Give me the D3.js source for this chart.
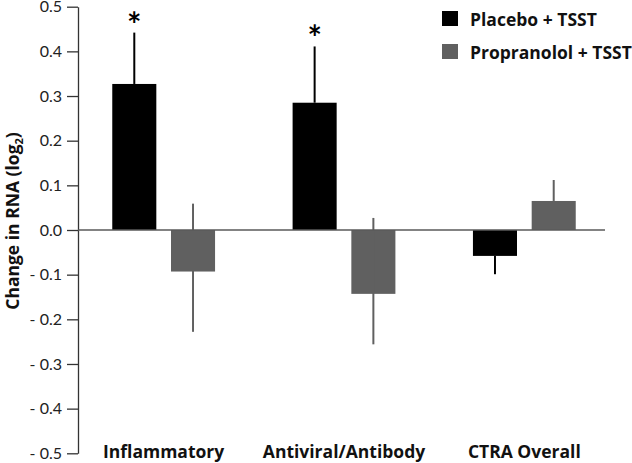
<!DOCTYPE html>
<html><head><meta charset="utf-8">
<script src="https://cdn.jsdelivr.net/npm/d3@7/dist/d3.min.js"></script>
<style>
html,body{margin:0;padding:0;background:#fff;}
svg{display:block;}
</style></head>
<body>
<svg id="chart" width="632" height="463"></svg>
<script>
// ---- data ----
const categories = ["Inflammatory", "Antiviral/Antibody", "CTRA Overall"];
const seriesNames = ["Placebo + TSST", "Propranolol + TSST"];
const placeboValues = [0.327, 0.285, -0.058];
const propranololValues = [-0.093, -0.143, 0.065];
const placeboErrHigh = [0.442, 0.411, -0.058];
const placeboErrLow = [0.327, 0.285, -0.099];
const propranololErrHigh = [0.059, 0.027, 0.112];
const propranololErrLow = [-0.228, -0.256, 0.065];
const placeboSignificance = ["*", "*", ""];
const yTickValues = [0.5, 0.4, 0.3, 0.2, 0.1, 0.0, -0.1, -0.2, -0.3, -0.4, -0.5];
const yTickLabels = ["0.5", "0.4", "0.3", "0.2", "0.1", "0.0", "- 0.1", "- 0.2", "- 0.3", "- 0.4", "- 0.5"];
const seriesColors = ["#000000", "#606060"];

const series = [
  {name: seriesNames[0], values: placeboValues, hi: placeboErrHigh, lo: placeboErrLow, sig: placeboSignificance},
  {name: seriesNames[1], values: propranololValues, hi: propranololErrHigh, lo: propranololErrLow, sig: ["", "", ""]}
];

const svg = d3.select("#chart");
const FONT = "Lato, 'Open Sans', sans-serif";
const BOLD = "'Open Sans', Lato, sans-serif";

const y = d3.scaleLinear().domain([-0.5, 0.5]).range([453.3, 6.7]);
const x = d3.scaleBand().domain(categories).range([78, 610]).paddingInner(0.43).paddingOuter(0.19);
const xs = d3.scaleBand().domain(seriesNames).range([0, x.bandwidth()]).paddingInner(0.25);
const color = d3.scaleOrdinal().domain(seriesNames).range(seriesColors);

// y axis
const yAxis = d3.axisLeft(y)
  .tickValues(yTickValues)
  .tickFormat((d, i) => yTickLabels[i])
  .tickSize(11).tickPadding(5).tickSizeOuter(0);
const gy = svg.append("g").attr("transform", "translate(78,0)").call(yAxis);
gy.select(".domain").attr("stroke", "#333").attr("stroke-width", 1.3);
gy.selectAll(".tick line").attr("stroke", "#333").attr("stroke-width", 1.3);
gy.selectAll(".tick text").attr("fill", "#222").style("font-family", FONT).style("font-size", "16px");

// bars
const groups = svg.append("g").selectAll("g").data(series).join("g");
groups.each(function(s) {
  const g = d3.select(this);
  const rows = categories.map((c, i) => ({c, v: s.values[i], hi: s.hi[i], lo: s.lo[i], sig: s.sig[i]}));
  g.selectAll("rect").data(rows).join("rect")
    .attr("x", d => x(d.c) + xs(s.name))
    .attr("width", xs.bandwidth())
    .attr("y", d => y(Math.max(0, d.v)))
    .attr("height", d => Math.abs(y(d.v) - y(0)))
    .attr("fill", color(s.name));
  g.selectAll("line.err").data(rows).join("line").attr("class", "err")
    .attr("x1", d => x(d.c) + xs(s.name) + xs.bandwidth() / 2)
    .attr("x2", d => x(d.c) + xs(s.name) + xs.bandwidth() / 2)
    .attr("y1", d => y(d.hi))
    .attr("y2", d => y(d.lo))
    .attr("stroke", color(s.name)).attr("stroke-width", 2);
  g.selectAll("text.sig").data(rows.filter(d => d.sig)).join("text").attr("class", "sig")
    .attr("x", d => x(d.c) + xs(s.name) + xs.bandwidth() / 2)
    .attr("y", d => y(d.hi) + 4)
    .attr("text-anchor", "middle")
    .style("font-family", FONT).style("font-weight", "bold").style("font-size", "34px")
    .attr("fill", "#000")
    .text(d => d.sig);
});

// zero line
svg.append("line")
  .attr("x1", 78).attr("x2", 605)
  .attr("y1", y(0)).attr("y2", y(0))
  .attr("stroke", "#5a5a5a").attr("stroke-width", 1.5);

// category labels
svg.append("g").selectAll("text").data(categories).join("text")
  .attr("x", d => x(d) + x.bandwidth() / 2)
  .attr("y", 458)
  .attr("text-anchor", "middle")
  .style("font-family", BOLD).style("font-weight", "bold").style("font-size", "17.5px")
  .attr("fill", "#111")
  .text(d => d);

// y title
const yt = svg.append("text")
  .attr("transform", "translate(18.5,221) rotate(-90)")
  .attr("text-anchor", "middle")
  .style("font-family", BOLD).style("font-weight", "bold").style("font-size", "17.5px")
  .attr("fill", "#111");
yt.append("tspan").text("Change in RNA (log");
yt.append("tspan").attr("dy", 4).style("font-size", "11px").text("2");
yt.append("tspan").attr("dy", -4).text(")");

// legend
const leg = svg.append("g").selectAll("g").data(seriesNames).join("g")
  .attr("transform", (d, i) => `translate(442,${11 + i * 33})`);
leg.append("rect").attr("width", 16).attr("height", 15).attr("fill", d => color(d));
leg.append("text").attr("x", 28).attr("y", 15)
  .style("font-family", BOLD).style("font-weight", "bold").style("font-size", "17.5px")
  .attr("fill", "#111")
  .text(d => d);
</script>
</body></html>
